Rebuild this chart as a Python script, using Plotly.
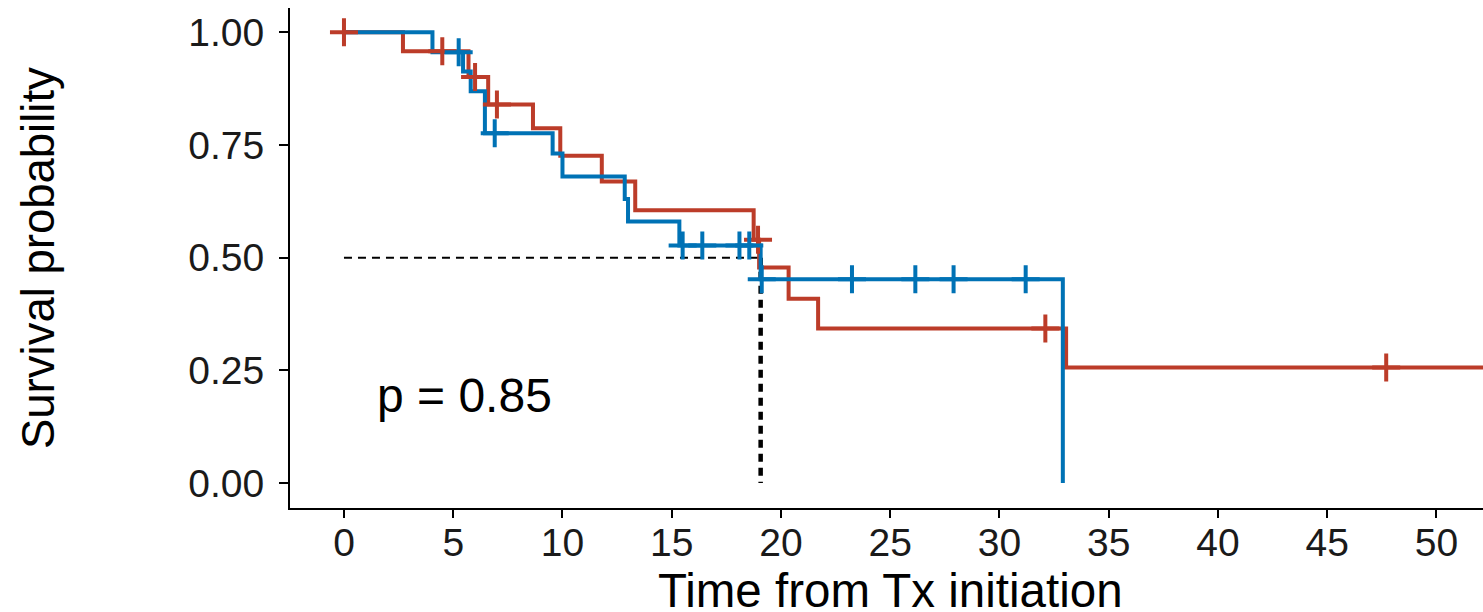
import plotly.graph_objects as go

# ---- data ----
red_time = [0, 2.7, 5.7, 6.6, 8.65, 9.9, 11.8, 13.33, 18.75, 19.0, 20.35, 21.7, 33.05, 53.0]
red_surv = [1.0, 0.958, 0.901, 0.840, 0.787, 0.726, 0.669, 0.605, 0.540, 0.478, 0.409, 0.343, 0.256, 0.256]
red_cens_time = [0, 4.5, 6.0, 7.0, 18.95, 32.1, 47.7]
red_cens_surv = [1.0, 0.958, 0.901, 0.840, 0.540, 0.343, 0.256]

blue_time = [0, 4.05, 5.45, 5.8, 6.45, 9.55, 10.0, 12.85, 13.0, 15.35, 19.07, 32.9]
blue_surv = [1.0, 0.956, 0.913, 0.869, 0.776, 0.731, 0.680, 0.630, 0.580, 0.527, 0.452, 0.0]
blue_cens_time = [5.25, 6.9, 15.5, 16.4, 18.1, 18.55, 19.12, 23.25, 26.15, 27.9, 31.2]
blue_cens_surv = [0.956, 0.776, 0.527, 0.527, 0.527, 0.527, 0.452, 0.452, 0.452, 0.452, 0.452]

median_time = 19.07
x_ticks = [0, 5, 10, 15, 20, 25, 30, 35, 40, 45, 50]
y_ticks = [0, 0.25, 0.5, 0.75, 1.0]
y_ticktext = ["0.00", "0.25", "0.50", "0.75", "1.00"]
pval_text = "p = 0.85"

RED = "#BC3C29"
BLUE = "#0072B5"
FONT = "Liberation Sans, Arial, sans-serif"

fig = go.Figure()

# median lines
fig.add_trace(go.Scatter(x=[0, median_time], y=[0.5, 0.5], mode="lines",
                         line=dict(color="black", width=2, dash="8px,6px"),
                         hoverinfo="skip", showlegend=False))
fig.add_trace(go.Scatter(x=[median_time, median_time], y=[0.5, 0], mode="lines",
                         line=dict(color="black", width=4.5, dash="8px,6px"),
                         hoverinfo="skip", showlegend=False))

fig.add_trace(go.Scatter(x=red_time, y=red_surv, mode="lines", line_shape="hv",
                         line=dict(color=RED, width=4), showlegend=False))
fig.add_trace(go.Scatter(x=blue_time, y=blue_surv, mode="lines", line_shape="hv",
                         line=dict(color=BLUE, width=4), showlegend=False))
fig.add_trace(go.Scatter(x=red_cens_time, y=red_cens_surv, mode="markers",
                         marker=dict(symbol="cross-thin", size=20,
                                     line=dict(color=RED, width=4)),
                         showlegend=False))
fig.add_trace(go.Scatter(x=blue_cens_time, y=blue_cens_surv, mode="markers",
                         marker=dict(symbol="cross-thin", size=20,
                                     line=dict(color=BLUE, width=4)),
                         showlegend=False))

fig.update_layout(
    width=1483, height=612,
    margin=dict(l=290, r=0, t=8, b=104),
    plot_bgcolor="white", paper_bgcolor="white",
    font=dict(family=FONT, color="black"),
    xaxis=dict(range=[-2.47, 52.13], tickvals=x_ticks, showgrid=False, zeroline=False,
               showline=True, linecolor="black", linewidth=2,
               ticks="outside", ticklen=8, tickwidth=2, tickcolor="black",
               tickfont=dict(size=39, color="#1a1a1a", family=FONT),
               ticklabelstandoff=-9),
    yaxis=dict(range=[-0.0555, 1.054], tickvals=y_ticks, ticktext=y_ticktext,
               showgrid=False, zeroline=False,
               showline=True, linecolor="black", linewidth=2,
               ticks="outside", ticklen=9, tickwidth=2, tickcolor="black",
               tickfont=dict(size=39, color="#1a1a1a", family=FONT),
               ticklabelstandoff=7),
    annotations=[
        dict(text="Time from Tx initiation", xref="paper", yref="paper",
             x=0.503, y=0, xanchor="center", yanchor="top", yshift=-54,
             showarrow=False, font=dict(size=47.5, family=FONT, color="black")),
        dict(text="Survival probability", xref="paper", yref="paper",
             x=-0.2112, y=0.5, xanchor="center", yanchor="middle", textangle=-90,
             showarrow=False, font=dict(size=45.5, family=FONT, color="black")),
        dict(text=pval_text, xref="x", yref="y", x=1.4, y=0.195,
             xanchor="left", yanchor="middle", showarrow=False,
             font=dict(size=48, family=FONT, color="black")),
    ],
)

fig.write_html("out.html")
